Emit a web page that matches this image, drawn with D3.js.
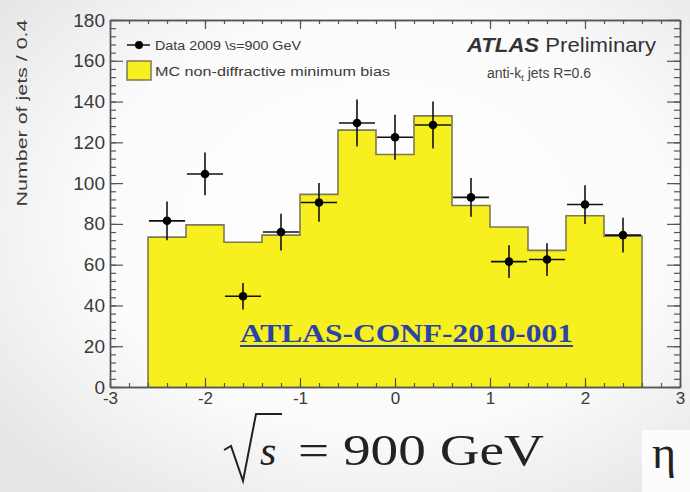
<!DOCTYPE html>
<html>
<head>
<meta charset="utf-8">
<script src="https://cdn.jsdelivr.net/npm/d3@7"></script>
<style>
  html, body { margin: 0; padding: 0; background: #f3f3f3; }
  svg { display: block; }
</style>
</head>
<body>
<svg id="chart" width="690" height="492"></svg>
<script>
// ─── ATLAS jet eta distribution, 900 GeV ──────────────────────

// bin edges (eta), 0.4 wide
const binEdges = [-2.6, -2.2, -1.8, -1.4, -1.0, -0.6, -0.2, 0.2, 0.6, 1.0, 1.4, 1.8, 2.2, 2.6];
// MC non-diffractive minimum bias, per bin
const mcValues = [73.5, 79.5, 71, 74.5, 94.5, 126, 114, 133, 89, 78.5, 67, 84, 74];
// Data 2009, per bin centre
const dataValues = [81.5, 104.5, 44.5, 76, 90.5, 129.5, 122.5, 128.5, 93, 61.5, 62.5, 89.5, 74.5];
const dataErrors = [9.5, 10.5, 6.5, 9, 9.5, 11.5, 11, 11.5, 9.5, 8, 8, 9.5, 8.5];

const xTicks = [-3, -2, -1, 0, 1, 2, 3];
const yTicks = [0, 20, 40, 60, 80, 100, 120, 140, 160, 180];

const YELLOW = "#f8ef1e";
const OUTLINE = "#7c7a55";
const INK = "#3a3a3a";
const SANS = "Liberation Sans, Arial, sans-serif";

const svg = d3.select("#chart");
const W = 690, H = 492;

const x = d3.scaleLinear().domain([-3, 3]).range([110, 680]);
const y = d3.scaleLinear().domain([0, 180]).range([387, 20]);

// Background shading (the photo has a soft grey vignette)
const defs = svg.append("defs");
const rg = defs.append("radialGradient").attr("id", "bg")
  .attr("cx", "0.55").attr("cy", "0.45").attr("r", "0.7");
rg.append("stop").attr("offset", "0").attr("stop-color", "#ffffff");
rg.append("stop").attr("offset", "0.6").attr("stop-color", "#fbfbfb");
rg.append("stop").attr("offset", "1").attr("stop-color", "#e6e6e6");
svg.append("rect").attr("width", W).attr("height", H).attr("fill", "url(#bg)");

// pale patch behind eta label
svg.append("rect").attr("x", 642).attr("y", 430).attr("width", 48).attr("height", 62).attr("fill", "#fcfcfc");

// MC histogram (step outline)
const mcPts = [];
mcValues.forEach((v, i) => {
  mcPts.push([binEdges[i], v]);
  mcPts.push([binEdges[i + 1], v]);
});
const area = d3.area().x(d => x(d[0])).y0(y(0)).y1(d => y(d[1]));
svg.append("path").datum(mcPts).attr("d", area).attr("fill", YELLOW);
const outline = [[binEdges[0], 0], ...mcPts, [binEdges[binEdges.length - 1], 0]];
svg.append("path").datum(outline)
  .attr("d", d3.line().x(d => x(d[0])).y(d => y(d[1])))
  .attr("fill", "none").attr("stroke", OUTLINE).attr("stroke-width", 1.6);

// Axes — ROOT style, ticks pointing inward
function styleAxis(g) {
  g.select(".domain").attr("stroke", "#555").attr("stroke-width", 1.4);
  g.selectAll(".tick line").attr("stroke", "#555").attr("stroke-width", 1.2);
}
const yMinor = d3.range(0, 181, 4);
const xMinor = d3.range(-3, 3.001, 0.2).map(v => +v.toFixed(1));

function tickAxis(axisFn, scale, values, size, tx, ty) {
  svg.append("g").attr("transform", `translate(${tx},${ty})`)
    .call(axisFn(scale).tickValues(values).tickSize(size).tickFormat("").tickSizeOuter(0))
    .call(styleAxis);
}
tickAxis(d3.axisRight, y, yMinor, 6, x(-3), 0);
tickAxis(d3.axisRight, y, yTicks, 13, x(-3), 0);
tickAxis(d3.axisLeft, y, yMinor, 6, x(3), 0);
tickAxis(d3.axisLeft, y, yTicks, 13, x(3), 0);
tickAxis(d3.axisTop, x, xMinor, 4, 0, y(0));
tickAxis(d3.axisTop, x, xTicks, 9, 0, y(0));
tickAxis(d3.axisBottom, x, xMinor, 4, 0, y(180));
tickAxis(d3.axisBottom, x, xTicks, 9, 0, y(180));

// tick labels
const yLab = svg.append("g").attr("transform", `translate(${x(-3)},0)`)
  .call(d3.axisLeft(y).tickValues(yTicks).tickSize(0).tickPadding(5));
yLab.select(".domain").remove();
yLab.selectAll("text").attr("font-family", SANS)
  .attr("font-size", 19).attr("fill", INK);

const xLab = svg.append("g").attr("transform", `translate(0,${y(0)})`)
  .call(d3.axisBottom(x).tickValues(xTicks).tickSize(0).tickPadding(5).tickFormat(d => String(d)));
xLab.select(".domain").remove();
xLab.selectAll("text").attr("font-family", SANS)
  .attr("font-size", 17).attr("fill", INK);

// y title
svg.append("text")
  .attr("transform", "translate(27,113) rotate(-90)")
  .attr("text-anchor", "middle")
  .attr("font-family", SANS)
  .attr("font-size", 15).attr("fill", INK)
  .attr("textLength", 187).attr("lengthAdjust", "spacingAndGlyphs")
  .text("Number of jets / 0.4");

// Data points with error bars
const centres = mcValues.map((_, i) => (binEdges[i] + binEdges[i + 1]) / 2);
const pts = svg.append("g").selectAll("g").data(dataValues).join("g");
pts.append("line")
  .attr("x1", (d, i) => x(centres[i] - 0.19)).attr("x2", (d, i) => x(centres[i] + 0.19))
  .attr("y1", d => y(d)).attr("y2", d => y(d))
  .attr("stroke", "#111").attr("stroke-width", 1.6);
pts.append("line")
  .attr("x1", (d, i) => x(centres[i])).attr("x2", (d, i) => x(centres[i]))
  .attr("y1", (d, i) => y(d - dataErrors[i])).attr("y2", (d, i) => y(d + dataErrors[i]))
  .attr("stroke", "#111").attr("stroke-width", 1.6);
pts.append("circle")
  .attr("cx", (d, i) => x(centres[i])).attr("cy", d => y(d))
  .attr("r", 4.3).attr("fill", "#000");

// Legend
const leg = svg.append("g").attr("font-family", SANS).attr("fill", INK);
leg.append("line").attr("x1", 127).attr("x2", 150).attr("y1", 45).attr("y2", 45)
  .attr("stroke", "#111").attr("stroke-width", 1.5);
leg.append("circle").attr("cx", 139).attr("cy", 45).attr("r", 4).attr("fill", "#000");
leg.append("text").attr("x", 155).attr("y", 50).attr("font-size", 12.5)
  .attr("textLength", 146).attr("lengthAdjust", "spacingAndGlyphs")
  .text("Data 2009 \\s=900 GeV");
leg.append("rect").attr("x", 127).attr("y", 61).attr("width", 24).attr("height", 19)
  .attr("fill", YELLOW).attr("stroke", OUTLINE).attr("stroke-width", 1.5);
leg.append("text").attr("x", 155).attr("y", 76).attr("font-size", 12.5)
  .attr("textLength", 235).attr("lengthAdjust", "spacingAndGlyphs")
  .text("MC non-diffractive minimum bias");

const atl = svg.append("text").attr("x", 467).attr("y", 52)
  .attr("font-family", SANS).attr("font-size", 20).attr("fill", "#333")
  .attr("textLength", 189).attr("lengthAdjust", "spacingAndGlyphs");
atl.append("tspan").attr("font-weight", "bold").attr("font-style", "italic").text("ATLAS");
atl.append("tspan").text(" Preliminary");

const ak = svg.append("text").attr("x", 487).attr("y", 78)
  .attr("font-family", SANS).attr("font-size", 14).attr("fill", "#444");
ak.append("tspan").text("anti-k");
ak.append("tspan").attr("font-size", 9).attr("dy", 3).text("t");
ak.append("tspan").attr("dy", -3).text(" jets R=0.6");

// Conference note reference
svg.append("text").attr("x", 240).attr("y", 342)
  .attr("font-family", "Liberation Serif, Times New Roman, serif").attr("font-weight", "bold")
  .attr("font-size", 26).attr("fill", "#2a43a8")
  .attr("textLength", 333).attr("lengthAdjust", "spacingAndGlyphs")
  .text("ATLAS-CONF-2010-001");
svg.append("line").attr("x1", 240).attr("x2", 573).attr("y1", 346).attr("y2", 346)
  .attr("stroke", "#2a43a8").attr("stroke-width", 2);

// sqrt(s) = 900 GeV
const big = svg.append("g").attr("fill", "#222");
big.append("path")
  .attr("d", "M224,450 L231,446 L243,481 L256,414 L282,414")
  .attr("fill", "none").attr("stroke", "#222").attr("stroke-width", 2);
big.append("text").attr("x", 260).attr("y", 465)
  .attr("font-family", "Liberation Serif, serif").attr("font-style", "italic").attr("font-size", 42)
  .text("s");
big.append("text").attr("x", 298).attr("y", 465)
  .attr("font-family", "Liberation Serif, serif").attr("font-size", 44)
  .attr("textLength", 246).attr("lengthAdjust", "spacingAndGlyphs")
  .text("= 900 GeV");
big.append("text").attr("x", 652).attr("y", 468)
  .attr("font-family", "Liberation Serif, serif").attr("font-size", 46)
  .text("η");
</script>
</body>
</html>
